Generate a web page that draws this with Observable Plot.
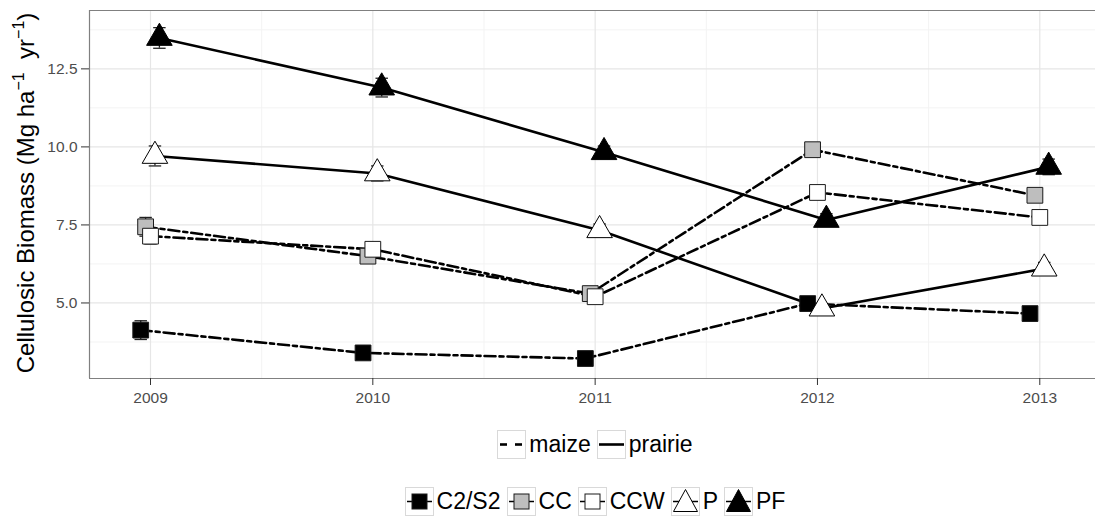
<!DOCTYPE html>
<html>
<head>
<meta charset="utf-8">
<script src="https://cdn.jsdelivr.net/npm/d3@7"></script>
<script src="https://cdn.jsdelivr.net/npm/@observablehq/plot@0.6"></script>
<style>
  body { margin: 0; background: white; font-family: "Liberation Sans", Arial, sans-serif; }
  #chart { width: 1095px; }
  .legend-row { display: flex; align-items: center; justify-content: center; padding-left: 101px; width: 994px; font-size: 23px; color: #000; }
  .legend-row .key { width: 29px; height: 29px; box-sizing: border-box; border: 1px solid #d9d9d9; background: white; }
  .legend-row .key svg { display: block; }
  .legend-row span.lab { margin: 0 6px 0 3px; }
  #row1 { margin-top: 12px; }
  #row2 { margin-top: 28px; }
</style>
</head>
<body>
<div id="chart"></div>
<div class="legend-row" id="row1"></div>
<div class="legend-row" id="row2"></div>
<script>
const years = [2009, 2010, 2011, 2012, 2013];
const treatments = ["C2/S2", "CC", "CCW", "P", "PF"];
const systems = ["maize", "maize", "maize", "prairie", "prairie"];

// mean cellulosic biomass, Mg/ha/yr, per treatment and year
const c2s2 = [4.13, 3.40, 3.22, 4.98, 4.66];
const cc   = [7.44, 6.50, 5.30, 9.91, 8.45];
const ccw  = [7.14, 6.72, 5.20, 8.54, 7.74];
const p    = [9.71, 9.15, 7.33, 4.82, 6.10];
const pf   = [13.49, 11.90, 9.83, 7.66, 9.36];

// standard errors
const c2s2Err = [0.30, 0.15, 0.12, 0.15, 0.15];
const ccErr   = [0.30, 0.20, 0.15, 0.20, 0.20];
const ccwErr  = [0.25, 0.15, 0.15, 0.20, 0.15];
const pErr    = [0.32, 0.24, 0.20, 0.15, 0.20];
const pfErr   = [0.33, 0.30, 0.20, 0.20, 0.25];

const yTicks = [5, 7.5, 10, 12.5];

const series = [c2s2, cc, ccw, p, pf];
const errors = [c2s2Err, ccErr, ccwErr, pErr, pfErr];

// look of each treatment (dodge in years, symbol, fill)
const dodge = [-0.044, -0.022, 0, 0.02, 0.04];
const symbols = ["square", "square", "square", "triangle", "triangle"];
const fills = ["#000000", "#bebebe", "#ffffff", "#ffffff", "#000000"];

const rows = treatments.flatMap((t, i) => years.map((yr, j) => ({
  treatment: t,
  system: systems[i],
  year: yr,
  xd: yr + dodge[i],
  value: series[i][j],
  se: errors[i][j],
  symbol: symbols[i],
  fill: fills[i]
})));

const X0 = 2008.7256, X1 = 2013.2506, Y0 = 2.58, Y1 = 14.37;
const minorX = years.slice(1).map(y => y - 0.5);
const minorY = [3.75, 6.25, 8.75, 11.25, 13.75];
const capW = 0.028;

const plot = Plot.plot({
  width: 1095,
  height: 418,
  marginLeft: 89,
  marginRight: 0,
  marginTop: 10,
  marginBottom: 40,
  x: { domain: [X0, X1] },
  y: { domain: [Y0, Y1] },
  style: { fontFamily: "'Liberation Sans', Arial, sans-serif", fontSize: "15.5px", background: "white", overflow: "visible" },
  marks: [
    Plot.ruleX(minorX, { stroke: "#f3f3f3", strokeWidth: 1 }),
    Plot.ruleY(minorY, { stroke: "#f3f3f3", strokeWidth: 1 }),
    Plot.ruleX(years, { stroke: "#e6e6e6", strokeWidth: 1.2 }),
    Plot.ruleY(yTicks, { stroke: "#e6e6e6", strokeWidth: 1.2 }),
    Plot.ruleX([X0], { stroke: "#808080", strokeWidth: 1.2 }),
    Plot.ruleY([Y0, Y1], { stroke: "#808080", strokeWidth: 1.2 }),
    Plot.axisX({ ticks: years, tickFormat: d => String(d), tickSize: 7, tickPadding: 6, fill: "#4d4d4d", stroke: "#333", label: null }),
    Plot.axisY({ ticks: yTicks, tickFormat: d3.format(".1f"), tickSize: 8, tickPadding: 4, fill: "#4d4d4d", stroke: "#333", label: null }),
    Plot.line(rows.filter(d => d.system === "maize"), { x: "xd", y: "value", z: "treatment", stroke: "black", strokeWidth: 2.6, strokeDasharray: "11,4,4,4" }),
    Plot.line(rows.filter(d => d.system === "prairie"), { x: "xd", y: "value", z: "treatment", stroke: "black", strokeWidth: 2.6 }),
    Plot.ruleX(rows, { x: "xd", y1: d => d.value - d.se, y2: d => d.value + d.se, stroke: "#222", strokeWidth: 1.3 }),
    Plot.link(rows, { x1: d => d.xd - capW, x2: d => d.xd + capW, y1: d => d.value + d.se, y2: d => d.value + d.se, stroke: "#222", strokeWidth: 1.3 }),
    Plot.link(rows, { x1: d => d.xd - capW, x2: d => d.xd + capW, y1: d => d.value - d.se, y2: d => d.value - d.se, stroke: "#222", strokeWidth: 1.3 }),
    Plot.dot(rows.filter(d => d.symbol === "square"), { x: "xd", y: "value", symbol: "square", r: 8.9, fill: "fill", stroke: "#1a1a1a", strokeWidth: 1 }),
    Plot.dot(rows.filter(d => d.symbol === "triangle"), { x: "xd", y: "value", symbol: "triangle", r: 9.5, fill: "fill", stroke: "#000", strokeWidth: 1 })
  ]
});
document.getElementById("chart").append(plot);

// y-axis title with superscripts
const svg = d3.select(plot);
const title = svg.append("text")
  .attr("transform", "translate(34,193) rotate(-90)")
  .attr("text-anchor", "middle")
  .attr("font-size", 24)
  .attr("fill", "#000")
  .attr("font-family", "'Liberation Sans', Arial, sans-serif")
  .attr("xml:space", "preserve");
title.append("tspan").text("Cellulosic Biomass (Mg ha");
title.append("tspan").attr("dy", -10).attr("font-size", 16).text("\u22121");
title.append("tspan").attr("dy", 10).text("  yr");
title.append("tspan").attr("dy", -10).attr("font-size", 16).text("\u22121");
title.append("tspan").attr("dy", 10).text(")");

// legends
function keySvg(inner) {
  return `<div class="key"><svg width="27" height="27" viewBox="0 0 27 27">${inner}</svg></div>`;
}
const row1 = document.getElementById("row1");
const lineKeys = {
  maize: '<line x1="2" x2="9" y1="13.5" y2="13.5" stroke="black" stroke-width="2.6"/><line x1="17" x2="24" y1="13.5" y2="13.5" stroke="black" stroke-width="2.6"/>',
  prairie: '<line x1="1" x2="26" y1="13.5" y2="13.5" stroke="black" stroke-width="2.6"/>'
};
row1.innerHTML = ["maize", "prairie"].map(s => keySvg(lineKeys[s]) + `<span class="lab">${s}</span>`).join("");

const row2 = document.getElementById("row2");
row2.innerHTML = treatments.map((t, i) => {
  const seg = '<line x1="1" x2="26" y1="13.5" y2="13.5" stroke="black" stroke-width="1.5"/>';
  const shape = symbols[i] === "square"
    ? `<rect x="6" y="6" width="15" height="15" fill="${fills[i]}" stroke="#1a1a1a" stroke-width="1"/>`
    : `<path d="M13.5,1.5 L25.5,23.5 L1.5,23.5 Z" fill="${fills[i]}" stroke="#000" stroke-width="1"/>`;
  return keySvg(seg + shape) + `<span class="lab">${t}</span>`;
}).join("");
</script>
</body>
</html>
